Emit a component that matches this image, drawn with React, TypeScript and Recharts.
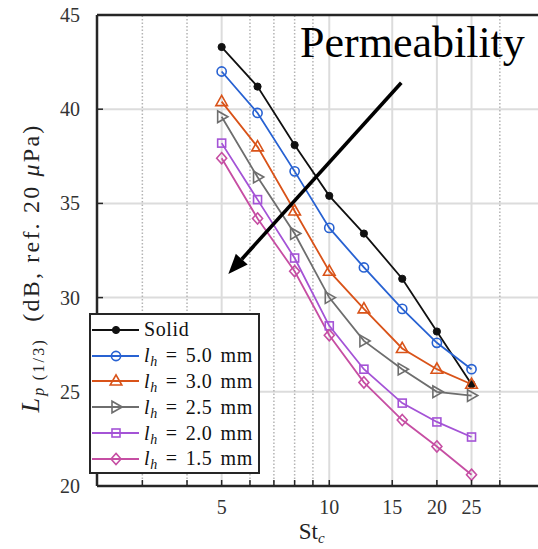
import {
  CartesianGrid,
  Legend,
  Line,
  LineChart,
  ReferenceLine,
  XAxis,
  YAxis,
} from 'recharts'

// third-octave centre Strouhal numbers
const ST = [5, 6.3, 8, 10, 12.5, 16, 20, 25]

const SOLID = [43.3, 41.2, 38.1, 35.4, 33.4, 31.0, 28.2, 25.4]
const LH_50 = [42.0, 39.8, 36.7, 33.7, 31.6, 29.4, 27.6, 26.2]
const LH_30 = [40.4, 38.0, 34.6, 31.4, 29.4, 27.3, 26.2, 25.4]
const LH_25 = [39.6, 36.4, 33.4, 30.0, 27.7, 26.2, 25.0, 24.8]
const LH_20 = [38.2, 35.2, 32.1, 28.5, 26.2, 24.4, 23.4, 22.6]
const LH_15 = [37.4, 34.2, 31.4, 28.0, 25.5, 23.5, 22.1, 20.6]

const X_MAJOR = [5, 10, 15, 20, 25]
const X_MINOR = [3, 4, 6, 7, 8, 9, 30]
const X_TICKS = [3, 4, 5, 6, 7, 8, 9, 10, 15, 20, 25, 30]
const Y_TICKS = [20, 25, 30, 35, 40, 45]
const X_DOMAIN: [number, number] = [2.24, 40]

// arrow annotation, data coords (tail -> head)
const ARROW = [
  { x: 15.9, y: 41.4 },
  { x: 5.22, y: 31.25 },
]

type Shape = 'dot' | 'circle' | 'triangle' | 'triangleRight' | 'square' | 'diamond'

const SERIES: { key: string; values: number[]; color: string; shape: Shape; lh: string | null }[] = [
  { key: 'solid', values: SOLID, color: '#111111', shape: 'dot', lh: null },
  { key: 'lh50', values: LH_50, color: '#2862d2', shape: 'circle', lh: '5.0' },
  { key: 'lh30', values: LH_30, color: '#d95319', shape: 'triangle', lh: '3.0' },
  { key: 'lh25', values: LH_25, color: '#6e6e6e', shape: 'triangleRight', lh: '2.5' },
  { key: 'lh20', values: LH_20, color: '#a453d6', shape: 'square', lh: '2.0' },
  { key: 'lh15', values: LH_15, color: '#c64ea3', shape: 'diamond', lh: '1.5' },
]

const rows = ST.map((st, i) => {
  const r: Record<string, number> = { st }
  SERIES.forEach((s) => {
    r[s.key] = s.values[i]
  })
  return r
})

const AXIS = '#262626'
const GRID = '#dcdcdc'
const FONT = '"Liberation Serif", "Times New Roman", serif'
const TICK_COLOR = '#333'

function Marker({ cx, cy, shape, color }: { cx: number; cy: number; shape: Shape; color: string }) {
  const sw = 1.6
  switch (shape) {
    case 'dot':
      return <circle cx={cx} cy={cy} r={3.6} fill={color} stroke={color} />
    case 'circle':
      return <circle cx={cx} cy={cy} r={4.6} fill="none" stroke={color} strokeWidth={sw} />
    case 'triangle':
      return (
        <polygon
          points={`${cx},${cy - 6.2} ${cx - 5.8},${cy + 4} ${cx + 5.8},${cy + 4}`}
          fill="none"
          stroke={color}
          strokeWidth={sw}
        />
      )
    case 'triangleRight':
      return (
        <polygon
          points={`${cx + 6.2},${cy} ${cx - 4},${cy - 5.8} ${cx - 4},${cy + 5.8}`}
          fill="none"
          stroke={color}
          strokeWidth={sw}
        />
      )
    case 'square':
      return <rect x={cx - 4} y={cy - 4} width={8} height={8} fill="none" stroke={color} strokeWidth={sw} />
    case 'diamond':
      return (
        <polygon
          points={`${cx},${cy - 5.6} ${cx + 5},${cy} ${cx},${cy + 5.6} ${cx - 5},${cy}`}
          fill="none"
          stroke={color}
          strokeWidth={sw}
        />
      )
  }
}

function makeDot(shape: Shape, color: string) {
  return (props: any) => {
    const { cx, cy, index } = props
    if (cx == null || cy == null) return <g key={index} />
    return (
      <g key={index}>
        <Marker cx={cx} cy={cy} shape={shape} color={color} />
      </g>
    )
  }
}

function BottomTick({ x, y, payload }: any) {
  const v = payload.value
  return (
    <g>
      <line x1={x} x2={x} y1={y} y2={y - 6} stroke={AXIS} strokeWidth={1.5} />
      {X_MAJOR.includes(v) && (
        <text x={x} y={y + 28} textAnchor="middle" fontFamily={FONT} fontSize={20} fill={TICK_COLOR}>
          {v}
        </text>
      )}
    </g>
  )
}

function TopTick({ x, y }: any) {
  return <line x1={x} x2={x} y1={y} y2={y + 6} stroke={AXIS} strokeWidth={1.5} />
}

function LeftTick({ x, y, payload }: any) {
  return (
    <g>
      <line x1={x} x2={x + 6} y1={y} y2={y} stroke={AXIS} strokeWidth={1.5} />
      <text x={x - 17} y={y + 7} textAnchor="end" fontFamily={FONT} fontSize={20} fill={TICK_COLOR}>
        {payload.value}
      </text>
    </g>
  )
}

function XLabel({ viewBox }: any) {
  const cx = viewBox.x + viewBox.width / 2 - 9
  return (
    <text x={cx} y={539} textAnchor="middle" fontFamily={FONT} fontSize={23} fill="#222">
      St
      <tspan fontSize={15} fontStyle="italic" dy={4}>
        c
      </tspan>
    </text>
  )
}

function YLabel() {
  const x = 39
  const y = 268
  return (
    <text
      x={x}
      y={y}
      transform={`rotate(-90, ${x}, ${y})`}
      textAnchor="middle"
      fontFamily={FONT}
      fontSize={24}
      letterSpacing={2.2}
      fill="#222"
    >
      <tspan fontStyle="italic" fontSize={26}>L</tspan>
      <tspan fontStyle="italic" fontSize={16} dy={5}>p</tspan>
      <tspan fontSize={16}>{'\u2009(1/3)'}</tspan>
      <tspan dy={-5}>{'\u00a0\u00a0(dB, ref.\u00a020\u00a0'}</tspan>
      <tspan fontStyle="italic">μ</tspan>
      <tspan>Pa)</tspan>
    </text>
  )
}

function Arrow(props: any) {
  const { x1, y1, x2, y2 } = props
  if ([x1, y1, x2, y2].some((v) => v == null)) return null
  const ang = Math.atan2(y2 - y1, x2 - x1)
  const len = 20
  const half = 8
  const bx = x2 - len * Math.cos(ang)
  const by = y2 - len * Math.sin(ang)
  const px = -Math.sin(ang) * half
  const py = Math.cos(ang) * half
  return (
    <g>
      <line x1={x1} y1={y1} x2={bx} y2={by} stroke="#000" strokeWidth={3.6} />
      <polygon points={`${x2},${y2} ${bx + px},${by + py} ${bx - px},${by - py}`} fill="#000" />
    </g>
  )
}

function LegendBox() {
  return (
    <div
      style={{
        boxSizing: 'border-box',
        width: 171,
        height: 161,
        border: `2.5px solid ${AXIS}`,
        background: '#fff',
        paddingTop: 2,
        fontFamily: FONT,
        fontSize: 20,
        color: '#111',
      }}
    >
      {SERIES.map((s) => (
        <div key={s.key} style={{ display: 'flex', alignItems: 'center', height: 25.8 }}>
          <svg width={50} height={20} style={{ flex: 'none' }}>
            <line x1={1} x2={48} y1={10} y2={10} stroke={s.color} strokeWidth={1.8} />
            <Marker cx={25} cy={10} shape={s.shape} color={s.color} />
          </svg>
          <span style={{ marginLeft: 3, whiteSpace: 'nowrap', letterSpacing: 0.6 }}>
            {s.lh == null ? (
              'Solid'
            ) : (
              <>
                <i>l</i>
                <i style={{ fontSize: 14, position: 'relative', top: 4 }}>h</i>
                <span style={{ margin: '0 8px' }}>=</span>
                {s.lh}
                <span style={{ marginLeft: 8 }}>mm</span>
              </>
            )}
          </span>
        </div>
      ))}
    </div>
  )
}

export default function App() {
  return (
    <div
      style={{
        position: 'absolute',
        left: 0,
        top: 0,
        width: 538,
        height: 549,
        overflow: 'hidden',
        background: '#fff',
      }}
    >
      <LineChart width={560} height={549} data={rows} margin={{ top: 0, right: 15.5, bottom: 0, left: 0 }}>
        <CartesianGrid vertical={false} stroke={GRID} strokeWidth={2} />
        {X_MAJOR.map((v) => (
          <ReferenceLine key={`M${v}`} x={v} stroke={GRID} strokeWidth={2} />
        ))}
        {X_MINOR.map((v) => (
          <ReferenceLine key={`m${v}`} x={v} stroke="#b4b4b4" strokeWidth={1.5} strokeDasharray="1.5 2" />
        ))}
        <XAxis
          dataKey="st"
          type="number"
          scale="log"
          domain={X_DOMAIN}
          allowDataOverflow
          ticks={X_TICKS}
          interval={0}
          tick={<BottomTick />}
          tickLine={false}
          tickSize={0}
          tickMargin={0}
          height={63}
          axisLine={{ stroke: AXIS, strokeWidth: 2.5 }}
          label={{ content: <XLabel /> }}
        />
        <XAxis
          xAxisId="top"
          orientation="top"
          type="number"
          scale="log"
          domain={X_DOMAIN}
          allowDataOverflow
          ticks={X_TICKS}
          interval={0}
          tick={<TopTick />}
          tickLine={false}
          tickSize={0}
          tickMargin={0}
          height={15}
          axisLine={{ stroke: AXIS, strokeWidth: 2.5 }}
        />
        <YAxis
          type="number"
          domain={[20, 45]}
          allowDataOverflow
          ticks={Y_TICKS}
          interval={0}
          tick={<LeftTick />}
          tickLine={false}
          tickSize={0}
          tickMargin={0}
          width={97}
          axisLine={{ stroke: AXIS, strokeWidth: 2.5 }}
          label={{ content: <YLabel /> }}
        />
        {SERIES.map((s) => (
          <Line
            key={s.key}
            type="linear"
            dataKey={s.key}
            stroke={s.color}
            strokeWidth={1.8}
            dot={makeDot(s.shape, s.color)}
            activeDot={false}
            isAnimationActive={false}
          />
        ))}
        <ReferenceLine segment={ARROW} ifOverflow="visible" shape={<Arrow />} />
        <Legend
          layout="horizontal"
          verticalAlign="middle"
          align="center"
          content={<LegendBox />}
          wrapperStyle={{ left: 89, top: 313, width: 171, height: 161 }}
        />
      </LineChart>
      <svg width={538} height={549} style={{ position: 'absolute', left: 0, top: 0, pointerEvents: 'none' }}>
        <text x={300} y={57} fontFamily={FONT} fontSize={44} fill="#000">
          Permeability
        </text>
      </svg>
    </div>
  )
}
